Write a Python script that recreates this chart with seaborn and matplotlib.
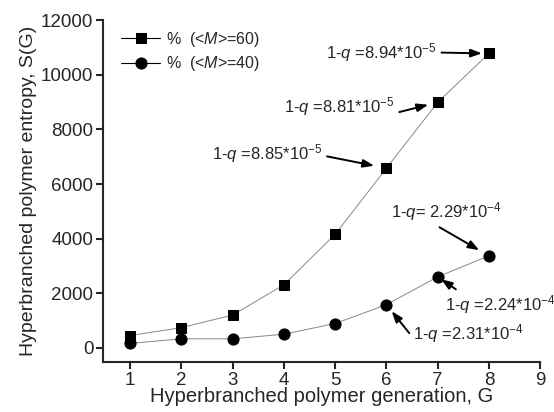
import numpy as np
import pandas as pd
import seaborn as sns
import matplotlib
matplotlib.use('Agg')
import matplotlib.pyplot as plt

# data
generation = [1, 2, 3, 4, 5, 6, 7, 8]
entropy_m60 = [450, 740, 1200, 2310, 4160, 6580, 8990, 10780]
entropy_m40 = [160, 330, 330, 500, 890, 1580, 2600, 3370]
labels = [r'%  (<$M$>=60)', r'%  (<$M$>=40)']
notes_m60 = [(6, r'1-$q$ =8.85*10$^{-5}$'), (7, r'1-$q$ =8.81*10$^{-5}$'), (8, r'1-$q$ =8.94*10$^{-5}$')]
notes_m40 = [(6, r'1-$q$ =2.31*10$^{-4}$'), (7, r'1-$q$ =2.24*10$^{-4}$'), (8, r'1-$q$= 2.29*10$^{-4}$')]

sns.set_style('ticks')
plt.rcParams['font.family'] = ['Liberation Sans', 'DejaVu Sans']
plt.rcParams['mathtext.fontset'] = 'custom'
plt.rcParams['mathtext.rm'] = 'Liberation Sans'
plt.rcParams['mathtext.it'] = 'Liberation Sans:italic'

df = pd.DataFrame({'G': generation, 'm60': entropy_m60, 'm40': entropy_m40})

fig = plt.figure(figsize=(5.54, 4.12), dpi=100)
ax = fig.add_axes([0.186, 0.121, 0.789, 0.830])

sns.lineplot(data=df, x='G', y='m60', ax=ax, color='#888888', lw=0.7,
             marker='s', markersize=7.5, markerfacecolor='black', markeredgecolor='black',
             label=labels[0])
sns.lineplot(data=df, x='G', y='m40', ax=ax, color='#888888', lw=0.7,
             marker='o', markersize=8, markerfacecolor='black', markeredgecolor='black',
             label=labels[1])

ax.set_xlim(0.47, 9)
ax.set_ylim(-525, 12000)
ax.set_xticks(range(1, 10))
ax.set_yticks(range(0, 12001, 2000))
ax.set_xlabel('Hyperbranched polymer generation, G', fontsize=14.5, labelpad=-1)
ax.set_ylabel('Hyperbranched polymer entropy, S(G)', fontsize=14, labelpad=3)
ax.tick_params(labelsize=13.5, length=5, width=1.5, direction='out', pad=2)
for s in ['left', 'bottom']:
    ax.spines[s].set_linewidth(1.5)
sns.despine(ax=ax)

leg = ax.legend(loc='upper left', bbox_to_anchor=(0.02, 1.0), frameon=False,
                fontsize=11.5, handlelength=2.4, handletextpad=0.4, labelspacing=0.35,
                borderaxespad=0.2)
for h in leg.legend_handles:
    h.set_color('black')
    h.set_linewidth(0.8)

arrow = dict(arrowstyle='-|>,head_length=0.55,head_width=0.2', color='black', lw=1.4, shrinkA=1)

# (offset px, ha, relpos, shrinkB)
pos60 = {6: ((-64, 15), 'right', (1, 0.4), 9), 7: ((-43, -4), 'right', (1, 0.2), 7), 8: ((-52, 1), 'right', (1, 0.5), 5)}
pos40 = {6: ((27, -29), 'left', (0, 0.3), 6), 7: ((7, -28), 'left', (0.14, 1.05), 3), 8: ((-43, 44), 'center', (0.38, 0), 8)}

for g, txt in notes_m60:
    off, ha, rp, sb = pos60[g]
    ax.annotate(txt, xy=(g, entropy_m60[g - 1]), xytext=off, textcoords='offset pixels',
                ha=ha, va='center', fontsize=12,
                arrowprops=dict(arrow, relpos=rp, shrinkB=sb))
for g, txt in notes_m40:
    off, ha, rp, sb = pos40[g]
    ax.annotate(txt, xy=(g, entropy_m40[g - 1]), xytext=off, textcoords='offset pixels',
                ha=ha, va='center', fontsize=12,
                arrowprops=dict(arrow, relpos=rp, shrinkB=sb))

fig.savefig('out.png', dpi=100)
